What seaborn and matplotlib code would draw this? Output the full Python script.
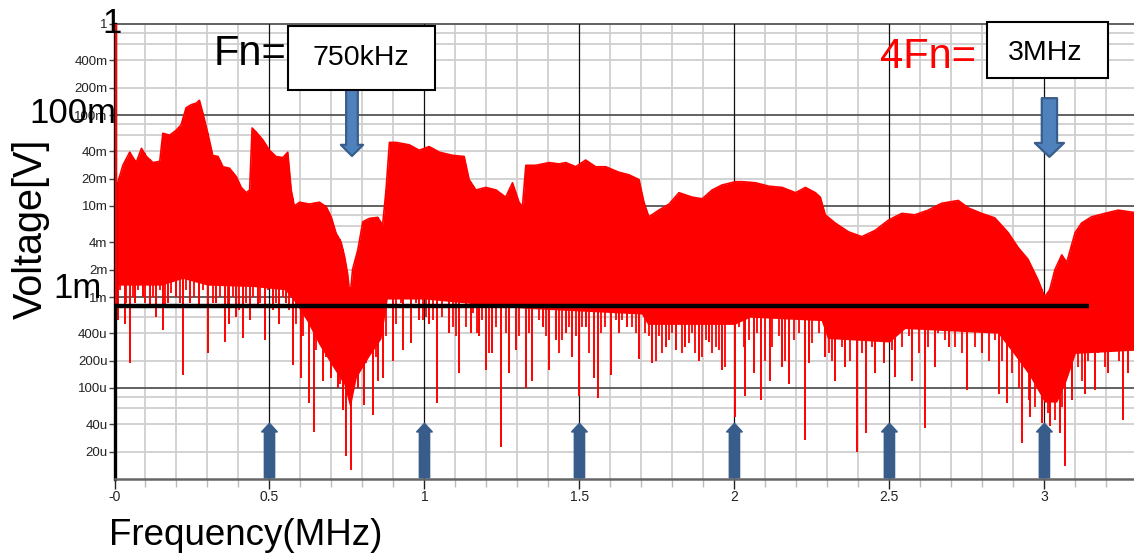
import numpy as np
import matplotlib
matplotlib.use("Agg")
import matplotlib.pyplot as plt
import matplotlib.transforms as mtransforms
from matplotlib.patches import Rectangle
import seaborn as sns

# ---- spectrum data (frequency in MHz, amplitude in mV) ----
# upper envelope of the measured spectrum
env_freq = [0.006, 0.027, 0.049, 0.070, 0.087, 0.103, 0.124, 0.146, 0.156, 0.178,
            0.199, 0.215, 0.231, 0.248, 0.264, 0.274, 0.285, 0.301, 0.317, 0.334,
            0.350, 0.371, 0.393, 0.409, 0.425, 0.436, 0.444, 0.457, 0.479, 0.500,
            0.521, 0.543, 0.559, 0.570, 0.580, 0.597, 0.629, 0.661, 0.683, 0.699,
            0.715, 0.731, 0.742, 0.752, 0.760, 0.768, 0.785, 0.801, 0.822, 0.849,
            0.865, 0.876, 0.887, 0.908, 0.951, 0.983, 1.015, 1.048, 1.091, 1.128,
            1.144, 1.166, 1.198, 1.231, 1.262, 1.284, 1.305, 1.316, 1.327, 1.359,
            1.402, 1.434, 1.456, 1.488, 1.520, 1.552, 1.585, 1.627, 1.660, 1.692,
            1.708, 1.724, 1.756, 1.789, 1.821, 1.864, 1.896, 1.928, 1.960, 2.003,
            2.025, 2.068, 2.111, 2.154, 2.197, 2.229, 2.261, 2.277, 2.293, 2.325,
            2.368, 2.411, 2.454, 2.497, 2.540, 2.582, 2.625, 2.668, 2.722, 2.755,
            2.797, 2.840, 2.883, 2.915, 2.947, 2.979, 3.001, 3.017, 3.034, 3.056,
            3.072, 3.099, 3.120, 3.152, 3.195, 3.238, 3.289]
env_mv = [16, 28, 39, 30, 43, 35, 30, 31, 63, 60,
          68, 78, 120, 130, 135, 145, 105, 63, 36, 35,
          27, 26, 21, 16, 14, 15, 72, 65, 53, 41,
          35, 34, 39, 15, 10, 11, 10.5, 11, 9.8, 7.6,
          5, 4, 2.8, 1.8, 1.0, 2, 3.3, 6.7, 7.3, 7.5,
          6.2, 15, 50, 50, 47, 41, 45, 39, 36, 35,
          19.5, 15, 16, 15, 12.5, 18, 11, 9.8, 28, 28,
          30, 29, 30, 27, 32, 27, 27, 23.5, 22, 19.5,
          11, 7.6, 9, 10.5, 14, 12.5, 12, 15, 17, 18.5,
          18.5, 18, 16.5, 16, 14, 16, 14, 12.5, 8, 6.5,
          5.2, 4.6, 5.4, 7, 8.3, 8, 9, 10.7, 11.5, 9.5,
          8.3, 7.4, 5.1, 3.5, 2.6, 1.55, 1.0, 1.2, 2, 2.9,
          2.4, 5.1, 6.5, 7.6, 8.3, 9, 8.5]

# lower edge of the solid noise band
floor_freq = [0.0, 0.15, 0.22, 0.30, 0.45, 0.55, 0.58, 0.62, 0.66, 0.70,
              0.74, 0.76, 0.78, 0.82, 0.86, 0.88, 1.0, 1.15, 1.33, 1.70,
              1.72, 2.0, 2.05, 2.28, 2.30, 2.5, 2.55, 2.85, 2.9, 2.95,
              3.0, 3.04, 3.07, 3.10, 3.289]
floor_mv = [1.35, 1.35, 1.6, 1.35, 1.3, 1.2, 0.9, 0.55, 0.3, 0.18,
            0.11, 0.06, 0.13, 0.22, 0.35, 0.95, 0.95, 0.85, 0.75, 0.65,
            0.5, 0.5, 0.6, 0.55, 0.35, 0.32, 0.45, 0.4, 0.24, 0.14,
            0.07, 0.07, 0.12, 0.24, 0.26]

# dense short dips hanging below the band
fringe_freq = [0.017, 0.038, 0.060, 0.076, 0.097, 0.124, 0.146, 0.162, 0.183, 0.210,
               0.232, 0.258, 0.285, 0.317, 0.339, 0.366, 0.382, 0.403, 0.425, 0.446,
               0.468, 0.495, 0.521, 0.543, 0.564, 0.586, 0.607, 0.650, 0.683, 0.726,
               0.779, 0.811, 0.844, 0.876, 0.908, 0.924, 0.951, 0.972,
               0.994, 1.005, 1.026, 1.058, 1.091, 1.101, 1.134, 1.155, 1.171, 1.187,
               1.209, 1.230, 1.263, 1.306, 1.338, 1.370, 1.391, 1.434, 1.445, 1.466,
               1.488, 1.509, 1.531, 1.568, 1.584, 1.617, 1.638, 1.670, 1.681, 1.713,
               1.724, 1.746, 1.756, 1.767, 1.789, 1.799, 1.832, 1.853, 1.864, 1.874,
               1.896, 1.907, 1.928, 1.939, 1.950, 1.971,
               2.014, 2.030, 2.046, 2.073, 2.100, 2.122, 2.143, 2.164, 2.191, 2.207,
               2.250, 2.272, 2.304, 2.315, 2.347, 2.374, 2.411, 2.444, 2.486, 2.508,
               2.540, 2.562, 2.594, 2.626, 2.658, 2.680, 2.712, 2.734, 2.777, 2.820,
               2.841, 2.863, 2.895, 2.917, 2.949, 2.970, 3.013, 3.034, 3.056, 3.088,
               3.109, 3.120, 3.142, 3.174, 3.196, 3.217, 3.239, 3.271]
fringe_mv = [1.19, 0.85, 1.0, 1.19, 0.85, 1.0, 1.19, 0.78, 1.10, 0.85,
             1.19, 1.0, 1.19, 0.85, 1.0, 0.78, 1.0, 0.72, 0.85, 1.0,
             0.85, 1.19, 0.85, 1.0, 0.72, 0.51, 0.37, 0.26, 0.22, 0.11,
             0.13, 0.19, 0.22, 0.37, 0.51, 0.85, 1.0, 0.85,
             0.56, 0.61, 0.56, 0.61, 0.47, 0.37, 0.47, 0.66, 0.40, 0.56,
             0.24, 0.47, 0.40, 0.37, 0.40, 0.56, 0.37, 0.24, 0.34, 0.47,
             0.37, 0.47, 0.24, 0.40, 0.47, 0.56, 0.56, 0.47, 0.40, 0.40,
             0.37, 0.20, 0.37, 0.24, 0.34, 0.40, 0.24, 0.31, 0.40, 0.24,
             0.22, 0.34, 0.24, 0.28, 0.26, 0.17,
             0.47, 0.28, 0.34, 0.40, 0.20, 0.28, 0.37, 0.20, 0.34, 0.40,
             0.31, 0.40, 0.24, 0.20, 0.28, 0.20, 0.24, 0.28, 0.34, 0.26,
             0.28, 0.37, 0.24, 0.28, 0.40, 0.34, 0.28, 0.24, 0.28, 0.20,
             0.34, 0.20, 0.145, 0.10, 0.074, 0.062, 0.053, 0.044, 0.062, 0.10,
             0.17, 0.12, 0.20, 0.24, 0.17, 0.28, 0.20, 0.28]

# isolated deep nulls
null_freq = [0.011, 0.033, 0.049, 0.065, 0.092, 0.113, 0.135, 0.156, 0.172, 0.199,
             0.221, 0.242, 0.274, 0.301, 0.328, 0.355, 0.371, 0.393, 0.414, 0.436,
             0.462, 0.484, 0.511, 0.532, 0.554, 0.575, 0.602, 0.629, 0.642, 0.672,
             0.699, 0.720, 0.736, 0.747, 0.763, 0.785, 0.806, 0.833, 0.849, 0.865,
             0.898, 0.930, 0.956, 0.983,
             1.016, 1.042, 1.080, 1.112, 1.150, 1.176, 1.198, 1.219, 1.246, 1.273,
             1.295, 1.327, 1.348, 1.381, 1.402, 1.423, 1.456, 1.477, 1.498, 1.520,
             1.547, 1.560, 1.601, 1.627, 1.654, 1.692, 1.735, 1.778, 1.810, 1.842,
             1.885, 1.917, 1.960, 2.001, 2.035,
             2.063, 2.087, 2.116, 2.154, 2.177, 2.227, 2.240, 2.293, 2.325, 2.357,
             2.396, 2.424, 2.454, 2.481, 2.519, 2.573, 2.615, 2.648, 2.691, 2.750,
             2.798, 2.854, 2.878, 2.927, 2.954, 2.991, 3.018, 3.050, 3.066, 3.088,
             3.131, 3.163, 3.206, 3.254, 3.270]
null_mv = [0.56, 0.51, 0.19, 0.85, 1.0, 0.78, 0.61, 0.43, 0.85, 1.0,
           0.14, 0.85, 0.78, 0.24, 0.85, 0.32, 0.51, 0.61, 0.35, 0.56,
           0.78, 0.34, 0.72, 0.51, 0.85, 0.18, 0.13, 0.068, 0.033, 0.12,
           0.13, 0.10, 0.057, 0.018, 0.0126, 0.10, 0.065, 0.05, 0.12, 0.13,
           0.20, 0.26, 0.31, 0.56,
           0.51, 0.068, 0.40, 0.146, 0.40, 0.37, 0.158, 0.24, 0.0226, 0.146,
           0.26, 0.10, 0.12, 0.47, 0.158, 0.34, 0.40, 0.22, 0.081, 0.47,
           0.13, 0.078, 0.14, 0.40, 0.47, 0.21, 0.19, 0.28, 0.26, 0.28,
           0.20, 0.32, 0.158, 0.048, 0.081,
           0.145, 0.074, 0.12, 0.17, 0.11, 0.027, 0.19, 0.22, 0.12, 0.17,
           0.020, 0.032, 0.145, 0.19, 0.133, 0.12, 0.036, 0.17, 0.28, 0.095,
           0.24, 0.087, 0.068, 0.025, 0.048, 0.041, 0.038, 0.032, 0.014, 0.074,
           0.087, 0.095, 0.145, 0.044, 0.145]

dc_freq = 0.005
dc_mv = 1000
ref_level_mv = 0.8
ref_level_end = 3.145
harmonics = [0.5, 1.0, 1.5, 2.0, 2.5, 3.0]
fn_mhz = 0.75
fn4_mhz = 3.0

y_ticks = [1, 0.4, 0.2, 0.1, 0.04, 0.02, 0.01, 4e-3, 2e-3, 1e-3, 4e-4, 2e-4, 1e-4, 4e-5, 2e-5]
y_tick_labels = ["1", "400m", "200m", "100m", "40m", "20m", "10m", "4m", "2m", "1m",
                 "400u", "200u", "100u", "40u", "20u"]
x_ticks = [0, 0.5, 1, 1.5, 2, 2.5, 3]
x_tick_labels = ["-0", "0.5", "1", "1.5", "2", "2.5", "3"]

RED = "#ff0000"
ARROW_DARK = "#385d8a"
ARROW_FILL = "#4f81bd"

sns.set_theme(style="white")
plt.rcParams["font.family"] = ["Liberation Sans", "DejaVu Sans"]
TICK_FONT = ["Liberation Sans Narrow", "Liberation Sans"]

W_PX, H_PX = 1134, 555
fig = plt.figure(figsize=(W_PX / 100, H_PX / 100), dpi=100)
left_px, top_px, bottom_px = 114.5, 24, 479
ax = fig.add_axes([left_px / W_PX, 1 - bottom_px / H_PX,
                   1 - left_px / W_PX, (bottom_px - top_px) / H_PX])

ax.set_yscale("log")
ax.set_ylim(1e-5, 1)
ax.set_xlim(0, 3.289)

# ---- grid ----
for dec in [1e-5, 1e-4, 1e-3, 1e-2, 1e-1]:
    for m in [2, 4, 6, 8]:
        ax.axhline(dec * m, color="#cfcfcf", lw=1.3, zorder=0)
for dec in [1e-4, 1e-3, 1e-2, 1e-1, 1]:
    ax.axhline(dec, color="#555555", lw=1.3, zorder=0.5, clip_on=False)
for xv in np.arange(0.1, 3.29, 0.1):
    if abs(xv * 2 - round(xv * 2)) > 1e-6:
        ax.axvline(xv, color="#cfcfcf", lw=1.3, zorder=0)
for xv in x_ticks[1:]:
    ax.axvline(xv, color="#111111", lw=0.9, zorder=0.5)

# ---- spectrum ----
ef = np.array(env_freq)
ev = np.array(env_mv) * 1e-3
ff = np.array(floor_freq)
fv = np.array(floor_mv) * 1e-3
grid_f = np.union1d(ef, ff)
grid_f = grid_f[grid_f >= ef[0]]
top = 10 ** np.interp(grid_f, ef, np.log10(ev))
bot = 10 ** np.interp(grid_f, ff, np.log10(fv))
ax.fill_between(grid_f, bot, top, color=RED, lw=0, zorder=2)
sns.lineplot(x=ef, y=ev, color=RED, lw=1.2, ax=ax, zorder=2, sort=False)


def band_top(freqs):
    return 10 ** np.interp(freqs, grid_f, np.log10(top))


for fr, mv, lw in [(fringe_freq, fringe_mv, 1.3), (null_freq, null_mv, 1.4)]:
    fr = np.array(fr)
    ax.vlines(fr, np.array(mv) * 1e-3, band_top(fr), color=RED, lw=lw, zorder=2)
ax.vlines([dc_freq], ref_level_mv * 1e-3, dc_mv * 1e-3, color=RED, lw=1.6, zorder=3)

ax.hlines(ref_level_mv * 1e-3, 0, ref_level_end, color="black", lw=3.2, zorder=4)

# ---- axes styling ----
ax.set_yticks(y_ticks)
ax.set_yticklabels(y_tick_labels)
ax.yaxis.set_minor_locator(matplotlib.ticker.NullLocator())
ax.set_xticks(x_ticks)
ax.set_xticklabels(x_tick_labels)
ax.set_xticks(np.arange(0.1, 3.29, 0.1), minor=True)
ax.tick_params(axis="y", which="major", length=4, width=1, color="#444444",
               labelsize=9.5, labelcolor="#222222", pad=1, direction="out", left=True)
ax.tick_params(axis="x", which="major", length=7, width=1, color="#222222",
               labelsize=10, labelcolor="#222222", pad=1, direction="out", bottom=True)
ax.tick_params(axis="x", which="minor", length=6, width=1, color="#bbbbbb",
               direction="out", bottom=True)
for lbl in ax.get_xticklabels() + ax.get_yticklabels():
    lbl.set_fontfamily(TICK_FONT)
for side in ["top", "right"]:
    ax.spines[side].set_visible(False)
ax.spines["left"].set_color("black")
ax.spines["left"].set_linewidth(2.4)
ax.spines["bottom"].set_color("#666666")
ax.spines["bottom"].set_linewidth(1.8)
ax.set_xlabel("")
ax.set_ylabel("")


# ---- annotations ----
def fx(px):
    return px / W_PX


def fy(py):
    return 1 - py / H_PX


big = dict(color="black", fontsize=25)
fig.text(fx(112), fy(33), "1", ha="center", va="baseline", **big)
fig.text(fx(73), fy(123), "100m", ha="center", va="baseline", **big)
fig.text(fx(78), fy(298), "1m", ha="center", va="baseline", **big)
fig.text(fx(31), fy(229), "Voltage[V]", rotation=90, ha="center", va="center",
         fontsize=28.5, color="black")
fig.text(fx(109), fy(545), "Frequency(MHz)", ha="left", va="baseline",
         fontsize=26.5, color="black")

fig.text(fx(214), fy(65), "Fn=", ha="left", va="baseline", fontsize=30, color="black")
fig.text(fx(880), fy(68), "4Fn=", ha="left", va="baseline", fontsize=30, color=RED)

axw = W_PX - left_px
axh = bottom_px - top_px


def box_axes(x0, y0, x1, y1):
    return ((x0 - left_px) / axw, (bottom_px - y1) / axh,
            (x1 - x0) / axw, (y1 - y0) / axh)


trans_blend = mtransforms.blended_transform_factory(ax.transData, ax.transAxes)
shift = mtransforms.ScaledTranslation(5 / 100, 0, fig.dpi_scale_trans)

# down arrows toward Fn and 4Fn
for fval, y_start, y_tip, tail, head, hlen in [(fn_mhz, 0.86, 0.71, 0.42, 0.8, 0.4),
                                               (fn4_mhz, 0.837, 0.708, 0.55, 1.05, 0.5)]:
    ax.annotate("", xy=(fval, y_tip), xytext=(fval, y_start),
                xycoords=trans_blend + shift, textcoords=trans_blend + shift,
                arrowprops=dict(arrowstyle=f"simple,head_length={hlen},head_width={head},tail_width={tail}",
                                mutation_scale=20, fc=ARROW_FILL, ec=ARROW_DARK, lw=1.6,
                                shrinkA=0, shrinkB=0),
                zorder=6, annotation_clip=False)

# boxes with the frequency values
for (x0, y0, x1, y1), txt, tx, ty in [((288, 26, 435, 90), "750kHz", 361, 65),
                                      ((987, 22, 1108, 78), "3MHz", 1045, 60)]:
    bx, by, bw, bh = box_axes(x0, y0, x1, y1)
    ax.add_patch(Rectangle((bx, by), bw, bh, transform=ax.transAxes, fc="white",
                           ec="black", lw=1.5, zorder=7, clip_on=False))
    fig.text(fx(tx), fy(ty), txt, ha="center", va="baseline", fontsize=20.5,
             color="black", zorder=8)

# up arrows marking the 500 kHz harmonics
for h in harmonics:
    ax.annotate("", xy=(h, 0.122), xytext=(h, 0.003),
                xycoords=trans_blend, textcoords=trans_blend,
                arrowprops=dict(arrowstyle="simple,head_length=0.3,head_width=0.55,tail_width=0.36",
                                mutation_scale=20, fc=ARROW_DARK, ec=ARROW_DARK, lw=1.2,
                                joinstyle="round", capstyle="round",
                                shrinkA=0, shrinkB=0),
                zorder=6, annotation_clip=False)

fig.savefig("out.png", dpi=100)
